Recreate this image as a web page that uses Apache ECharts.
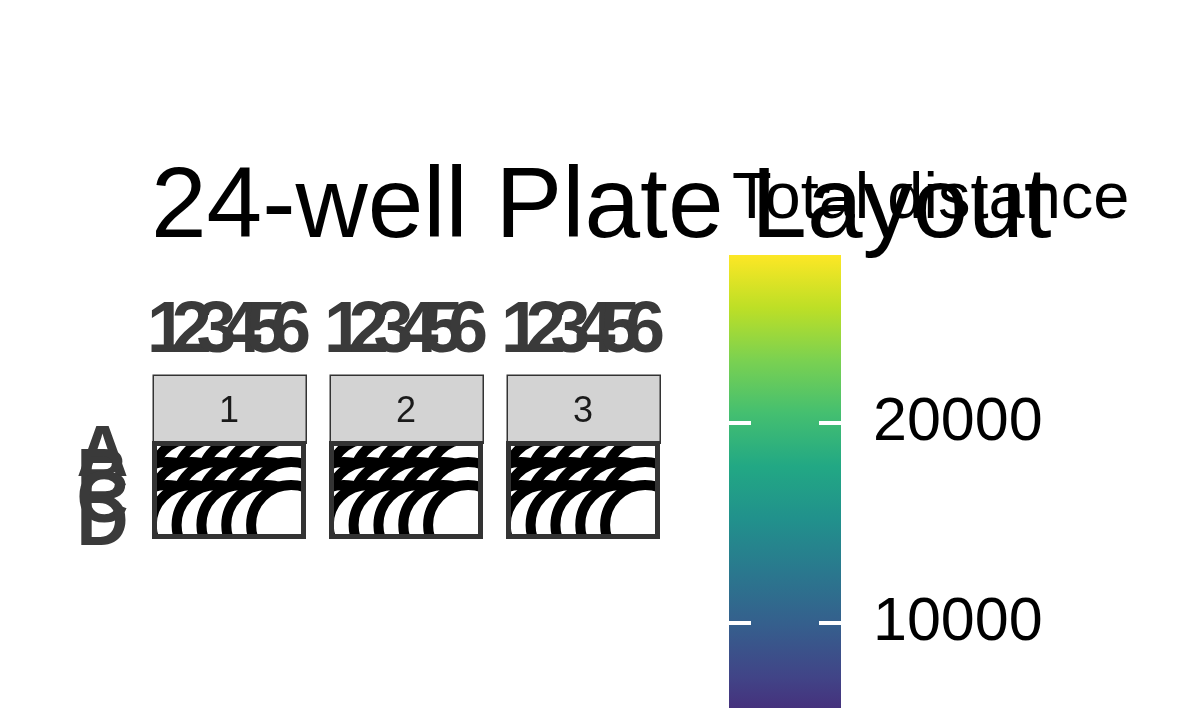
<!DOCTYPE html>
<html><head><meta charset="utf-8">
<script src="https://cdn.jsdelivr.net/npm/echarts@6/dist/echarts.min.js"></script>
<style>html,body{margin:0;padding:0;background:#fff}#c{width:1181px;height:708px}</style>
</head><body><div id="c"></div>
<script>
const plates = ['1', '2', '3'];
const cols = ['1', '2', '3', '4', '5', '6'];
const rows = ['A', 'B', 'C', 'D'];
// Total distance per well, rows A..D, cols 1..6 (estimated)
const plate1 = [
  12400, 15800, 9800, 27200, 18300, 11200,
  14100, 8600, 16900, 21500, 13300, 9900,
  10700, 17600, 12800, 15200, 19800, 8100,
  16300, 11900, 14700, 9200, 17100, 12600
];
const plate2 = [
  9400, 13700, 11800, 16200, 10300, 14900,
  12100, 15500, 8900, 13100, 17800, 11400,
  14600, 10200, 12900, 9700, 15300, 13800,
  11100, 16700, 10900, 14300, 12200, 9100
];
const plate3 = [
  13500, 10800, 15900, 12300, 9600, 14400,
  11700, 14200, 10100, 16600, 12700, 15100,
  9900, 13300, 11500, 12900, 16100, 10600,
  15700, 12000, 13900, 11300, 10400, 14800
];
const plateValues = [plate1, plate2, plate3];
const colorMin = 2000;
const colorMax = 28400;
const colorTicks = [10000, 20000];
const viridis = ['#440154', '#482475', '#414487', '#355f8d', '#2a788e', '#21918c', '#22a884', '#44bf70', '#7ad151', '#bddf26', '#fde725'];

const chart = echarts.init(document.getElementById('c'), null, { renderer: 'canvas' });
const FONT = 'Liberation Sans, Arial, sans-serif';

const panelLeft = [152, 329, 506];
const panelW = 154;
const stripTop = 374, stripH = 68;
const gridTop = 444.5, gridH = 92;
const bw = 5;

const grids = [], xAxes = [], yAxes = [], series = [], graphics = [];

plates.forEach((p, i) => {
  grids.push({
    left: panelLeft[i] + bw / 2, top: gridTop, width: panelW - bw, height: gridH,
    show: true, backgroundColor: '#ffffff', borderColor: '#333333', borderWidth: bw, z: 1
  });
  xAxes.push({
    type: 'category', data: cols, gridIndex: i, position: 'top', offset: stripH + 2,
    axisLine: { show: false }, axisTick: { show: false }, splitLine: { show: false },
    axisLabel: { interval: 0, margin: 6, fontSize: 72, fontWeight: 'bold', color: '#3a3a3a', fontFamily: FONT, hideOverlap: false }
  });
  yAxes.push({
    type: 'category', data: rows, gridIndex: i, inverse: true,
    axisLine: { show: false }, axisTick: { show: false }, splitLine: { show: false },
    axisLabel: { show: i === 0, interval: 0, margin: 26, fontSize: 72, fontWeight: 'bold', color: '#3a3a3a', fontFamily: FONT, hideOverlap: false, verticalAlign: 'middle', lineHeight: 72, padding: [12, 0, 0, 0] }
  });
  const data = [];
  rows.forEach((r, ri) => cols.forEach((c, ci) => data.push([c, r, plateValues[i][ri * cols.length + ci]])));
  series.push({
    type: 'scatter', xAxisIndex: i, yAxisIndex: i, data: data, symbolSize: 22,
    itemStyle: { borderColor: '#000', borderWidth: 1 }, z: 2, clip: true
  });
  series.push({
    type: 'custom', xAxisIndex: i, yAxisIndex: i, data: data, clip: true, z: 3,
    renderItem: function (params, api) {
      const pt = api.coord([api.value(0), api.value(1)]);
      return { type: 'circle', shape: { cx: pt[0], cy: pt[1], r: 40 }, style: { fill: '#ffffff', stroke: '#000000', lineWidth: 10 } };
    }
  });
  graphics.push({
    type: 'rect', left: panelLeft[i] + 0.5, top: stripTop + 0.5, z: 5,
    shape: { width: panelW - 1, height: stripH },
    style: { fill: '#d3d3d3', stroke: '#333333', lineWidth: 1.5 }
  });
  graphics.push({
    type: 'text', x: panelLeft[i] + panelW / 2, y: stripTop + stripH / 2 + 4, z: 6,
    style: { text: p, fontSize: 36, fill: '#1a1a1a', align: 'center', verticalAlign: 'middle', fontFamily: FONT }
  });
  // panel border drawn above the wells
  graphics.push({
    type: 'rect', x: panelLeft[i] + bw / 2, y: gridTop - 1, z: 40,
    shape: { width: panelW - bw, height: gridH + 1 },
    style: { fill: null, stroke: '#333333', lineWidth: bw }
  });
});

// colour bar: visible part runs from y=255 to the bottom edge (708)
const cbIndex = plates.length;
const cbTop = 255, cbBottom = 708;
const pxPerUnit = 200 / 10000;
const axisMax = colorMax;
const axisMin = colorMax - (cbBottom - cbTop) / pxPerUnit;
grids.push({ left: 729, width: 112, top: cbTop, height: cbBottom - cbTop, show: false });
xAxes.push({ type: 'category', data: ['bar'], gridIndex: cbIndex, show: false });
yAxes.push({
  type: 'value', gridIndex: cbIndex, min: axisMin, max: axisMax, position: 'left',
  axisLine: { show: false }, splitLine: { show: false }, axisLabel: { show: false },
  axisTick: { show: true, inside: true, length: 22, customValues: colorTicks, lineStyle: { color: '#ffffff', width: 4 } }, z: 10
});
yAxes.push({
  type: 'value', gridIndex: cbIndex, min: axisMin, max: axisMax, position: 'right',
  axisLine: { show: false }, splitLine: { show: false },
  axisTick: { show: true, inside: true, length: 22, customValues: colorTicks, lineStyle: { color: '#ffffff', width: 4 } },
  axisLabel: { show: true, margin: 32, fontSize: 61, color: '#000000', customValues: colorTicks, fontFamily: FONT, formatter: v => String(v) }, z: 10
});
series.push({
  type: 'bar', xAxisIndex: cbIndex, yAxisIndex: yAxes.length - 2, stack: 'cb', data: [colorMin],
  barWidth: '100%', itemStyle: { color: 'rgba(0,0,0,0)' }, silent: true, clip: false
});
series.push({
  type: 'bar', xAxisIndex: cbIndex, yAxisIndex: yAxes.length - 2, stack: 'cb', data: [colorMax - colorMin],
  barWidth: '100%', silent: true, clip: false,
  itemStyle: { color: new echarts.graphic.LinearGradient(0, 1, 0, 0, viridis.map((c, k) => ({ offset: k / (viridis.length - 1), color: c }))) }
});

graphics.push({
  type: 'text', x: 732, y: 200, z: 20,
  style: { text: 'Total distance', fontSize: 65, fill: '#000', verticalAlign: 'middle', fontFamily: FONT }
});

chart.setOption({
  animation: false,
  backgroundColor: '#ffffff',
  title: {
    text: '24-well Plate Layout', left: 146, top: 154, z: 30,
    textStyle: { fontSize: 100, fontWeight: 'normal', color: '#000000', fontFamily: FONT }
  },
  visualMap: {
    show: false, type: 'continuous', min: colorMin, max: colorMax, dimension: 2,
    seriesIndex: [0, 2, 4], inRange: { color: viridis }
  },
  grid: grids, xAxis: xAxes, yAxis: yAxes, series: series, graphic: graphics
});
</script>
</body></html>
